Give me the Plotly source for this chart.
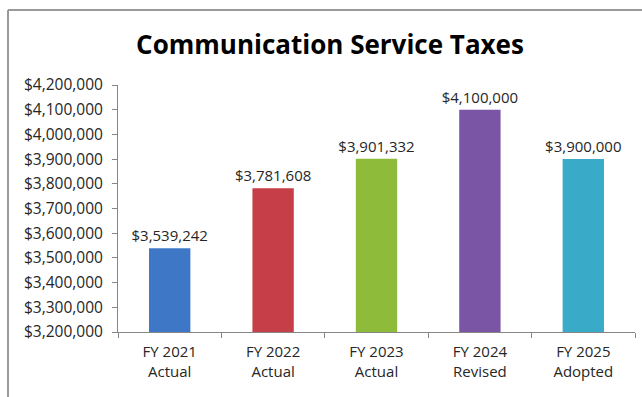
import plotly.graph_objects as go

# Communication Service Taxes by fiscal year
categories = ["FY 2021<br>Actual", "FY 2022<br>Actual", "FY 2023<br>Actual",
              "FY 2024<br>Revised", "FY 2025<br>Adopted"]
values = [3539242, 3781608, 3901332, 4100000, 3900000]
bar_colors = ["#3d77c6", "#c63f48", "#8fbb3b", "#7a55a6", "#39abc9"]
y_ticks = list(range(3200000, 4200001, 100000))

W, H = 642, 397
L, R, T, B = 118, 7, 85, 65
pw, ph = W - L - R, H - T - B

def px_x(x):
    return (x - L) / pw

def px_y(y):
    return (H - B - y) / ph

font = "Open Sans, Arial, sans-serif"
text_color = "#262626"

fig = go.Figure(go.Bar(
    x=categories,
    y=values,
    marker=dict(color=bar_colors, line=dict(width=0)),
    width=0.4,
    texttemplate="$%{y:,.0f}",
    textposition="outside",
    constraintext="none",
    textfont=dict(family=font, size=15, color=text_color),
    cliponaxis=False,
))

fig.update_layout(
    width=W, height=H,
    margin=dict(l=L, r=R, t=T, b=B),
    paper_bgcolor="white",
    plot_bgcolor="white",
    showlegend=False,
    uniformtext=dict(mode=False),
    title=dict(
        text="<b>Communication Service Taxes</b>",
        x=0.514, xanchor="center",
        y=1 - 45 / H, yanchor="middle",
        font=dict(family=font, size=26, color="#000000"),
    ),
    xaxis=dict(
        showline=True, linecolor="#868686", linewidth=1,
        ticks="outside", tickson="boundaries", ticklen=5, tickcolor="#868686",
        tickfont=dict(family=font, size=15, color=text_color),
        ticklabelstandoff=6,
        showgrid=False,
    ),
    yaxis=dict(
        range=[3200000, 4200000],
        tickvals=y_ticks,
        tickformat="$,.0f",
        showline=True, linecolor="#868686", linewidth=1,
        ticks="outside", ticklen=5, tickcolor="#868686",
        tickfont=dict(family=font, size=15.5, color=text_color),
        ticklabelstandoff=6,
        showgrid=False,
        zeroline=False,
    ),
    shapes=[
        # chart frame edges (left and top)
        dict(type="line", xref="paper", yref="paper",
             x0=px_x(8), x1=px_x(8), y0=px_y(10), y1=px_y(H + 5),
             line=dict(color="#9a9a9a", width=2)),
        dict(type="line", xref="paper", yref="paper",
             x0=px_x(8), x1=px_x(W + 5), y0=px_y(10), y1=px_y(10),
             line=dict(color="#9a9a9a", width=2)),
    ],
)

fig.write_html("out.html")
